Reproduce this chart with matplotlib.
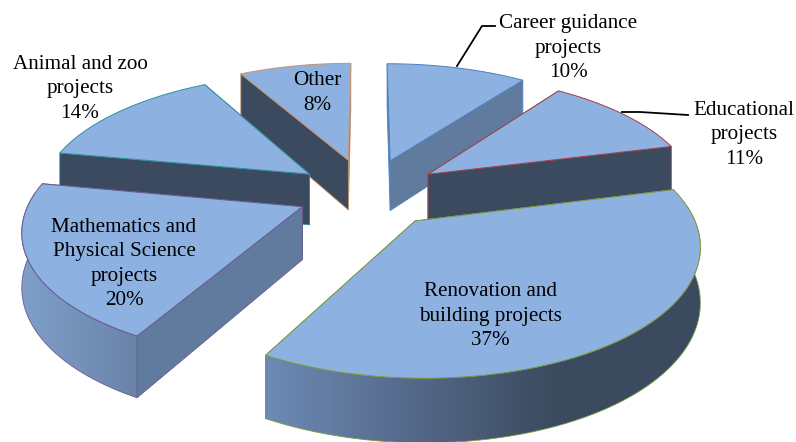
import numpy as np
import matplotlib
matplotlib.use("Agg")
import matplotlib.pyplot as plt
from matplotlib.patches import Polygon
from matplotlib.colors import to_rgb

labels = ["Career guidance\nprojects\n10%", "Educational\nprojects\n11%",
          "Renovation and\nbuilding projects\n37%",
          "Mathematics and\nPhysical Science\nprojects\n20%",
          "Animal and zoo\nprojects\n14%", "Other\n8%"]
values = [10, 11, 37, 20, 14, 8]
explode = [0.29, 0.28, 0.28, 0.26, 0.27, 0.29]

edge_colors = ["#4f81bd", "#a04048", "#7a9a40", "#6a5a90", "#2f8f9f", "#c8956c"]
top_color = "#8db1e0"
dark = "#3b4a5e"
mid = "#617b9e"
# colours across the outer wall, left to right
wall_colors = [[mid, mid], [dark, dark], ["#6d8bb5", "#55698a", dark, dark],
               ["#7f9fc9", "#6a84a8"], [dark, dark], [dark, dark]]
# colours of the two cut faces (start, end)
face_colors = [[mid, mid], [mid, dark], [mid, dark], [mid, dark], [dark, dark], [dark, dark]]
draw_order = [5, 0, 4, 1, 3, 2]

label_pos = [(568, 48), (744, 135), (490, 316), (124, 264), (80, 89), (317, 93)]

cx, cy = 367, 193
A, B, P, H = 270, 122, 0.16, 52


def project(u, v, z=0.0):
    s = 1 / (1 + P * v)
    return cx + A * u * s, cy - B * v * s + H * z * s


def mix(stops, t):
    rgb = np.array([to_rgb(c) for c in stops])
    pos = np.linspace(0, 1, len(stops))
    return np.array([np.interp(t, pos, rgb[:, i]) for i in range(3)]).T


fig = plt.figure(figsize=(7.96, 4.42), dpi=100)
ax = fig.add_axes([0, 0, 1, 1])
ax.set_xlim(0, 796)
ax.set_ylim(442, 0)
ax.axis("off")

edges = np.cumsum([0] + values) / sum(values) * 2 * np.pi
z = 1

for i in draw_order:
    a0, a1 = edges[i], edges[i + 1]
    mid_a = (a0 + a1) / 2
    ou, ov = explode[i] * np.sin(mid_a), explode[i] * np.cos(mid_a)
    th = np.linspace(a0, a1, 120)
    us = ou + np.sin(th)
    vs = ov + np.cos(th)
    ec = edge_colors[i]

    # cut faces, the back one first
    faces = []
    for k, a in enumerate([a0, a1]):
        eu, ev = ou + np.sin(a), ov + np.cos(a)
        quad = [project(ou, ov), project(eu, ev), project(eu, ev, 1), project(ou, ov, 1)]
        faces.append((ev, quad, face_colors[i][k]))
    for _, quad, col in sorted(faces, key=lambda f: -f[0]):
        ax.add_patch(Polygon(quad, closed=True, fc=col, ec=ec, lw=0.6, zorder=z))
        z += 1

    # outer wall, only the part that faces the viewer
    front = np.cos(th) <= 0.12
    if front.any():
        tx, ty = project(us[front], vs[front])
        bx, by = project(us[front], vs[front], 1)
        wall = np.r_[np.c_[tx, ty], np.c_[bx, by][::-1]]
        grad = mix(wall_colors[i], np.linspace(0, 1, 256))[None, :, :]
        im = ax.imshow(grad, extent=[wall[:, 0].min(), wall[:, 0].max(), wall[:, 1].max(), wall[:, 1].min()],
                       aspect="auto", zorder=z, interpolation="bilinear")
        clip = Polygon(wall, closed=True, transform=ax.transData)
        im.set_clip_path(clip)
        z += 1
        ax.add_patch(Polygon(wall, closed=True, fill=False, ec=ec, lw=0.6, zorder=z))
        z += 1

    # top
    px, py = project(np.r_[ou, us], np.r_[ov, vs])
    ax.add_patch(Polygon(np.c_[px, py], closed=True, fc=top_color, ec=ec, lw=0.7, zorder=z))
    z += 1

for text, (x, y) in zip(labels, label_pos):
    ax.text(x, y, text, ha="center", va="center", family="Liberation Serif",
            fontsize=15.2, color="black", linespacing=1.36, zorder=z)

ax.plot([457, 482, 495], [66, 26, 26], color="black", lw=1.3, zorder=z)
ax.plot([622, 640, 688], [112, 112, 115], color="black", lw=1.3, zorder=z)

fig.savefig("out.png", dpi=100)
